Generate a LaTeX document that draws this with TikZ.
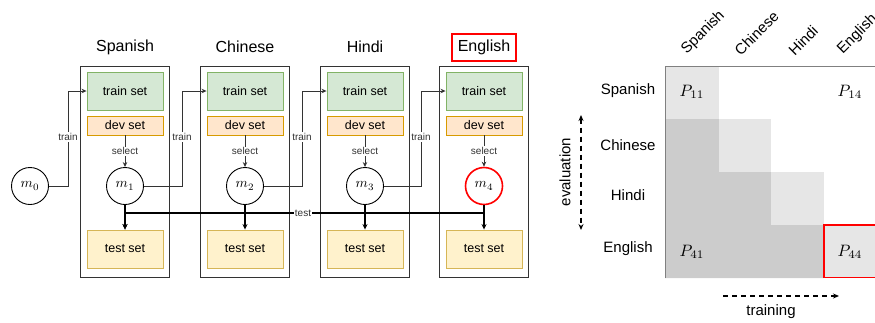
\documentclass[tikz,border=0pt]{standalone}
\usepackage{graphicx}
\usepackage{fontspec}
\setmainfont{Liberation Sans}
\usetikzlibrary{arrows.meta,calc}
\definecolor{trainfill}{HTML}{D5E8D4}
\definecolor{traindraw}{HTML}{82B366}
\definecolor{devfill}{HTML}{FFE6CC}
\definecolor{devdraw}{HTML}{D79B00}
\definecolor{testfill}{HTML}{FFF2CC}
\definecolor{testdraw}{HTML}{D6B656}
\definecolor{linegray}{HTML}{333333}
\definecolor{diaggray}{HTML}{E6E6E6}
\definecolor{lowgray}{HTML}{CCCCCC}
\definecolor{redline}{HTML}{FF0000}
\newcommand{\mbig}[1]{\scalebox{1.4}{$#1$}}
\newcommand{\pbig}[1]{\scalebox{1.65}{$#1$}}
\begin{document}
\begin{tikzpicture}[x=1pt,y=-1pt,
  colbox/.style={draw=linegray,line width=0.9pt,minimum width=89pt,minimum height=211pt,inner sep=0pt},
  trainbox/.style={draw=traindraw,fill=trainfill,line width=0.9pt,minimum width=76pt,minimum height=38pt,inner sep=0pt,font=\fontsize{12.5}{14}\selectfont},
  devbox/.style={draw=devdraw,fill=devfill,line width=0.9pt,minimum width=76pt,minimum height=19pt,inner sep=0pt,font=\fontsize{12.5}{14}\selectfont},
  testbox/.style={draw=testdraw,fill=testfill,line width=0.9pt,minimum width=76pt,minimum height=38pt,inner sep=0pt,font=\fontsize{12.5}{14}\selectfont},
  model/.style={circle,draw=black,line width=0.9pt,minimum size=37pt,inner sep=0pt},
  title/.style={font=\fontsize{16}{18}\selectfont,inner sep=0pt},
  lbl/.style={font=\fontsize{10}{12}\selectfont,fill=white,inner sep=1pt,text=linegray},
  arr/.style={-{Stealth[length=5pt,width=4.5pt]},line width=0.9pt,draw=linegray},
  testarr/.style={-{Stealth[length=5.5pt,width=5pt]},line width=1.3pt,draw=black},
  axlbl/.style={font=\fontsize{15}{17}\selectfont,inner sep=0pt},
  plbl/.style={inner sep=0pt}
]
\useasboundingbox (0,0) rectangle (875,322);

% ---------------- left: pipeline ----------------
\foreach \i/\cx in {1/125,2/245,3/365,4/484}{
  \node[colbox] (col\i) at (\cx,171.5) {};
  \node[trainbox] (tr\i) at (\cx,91) {train set};
  \node[devbox] (dev\i) at (\cx,125.5) {dev set};
  \node[testbox] (te\i) at (\cx,249) {test set};
}
\node[model] (m1) at (125,186) {\mbig{m_1}};
\node[model] (m2) at (245,186) {\mbig{m_2}};
\node[model] (m3) at (365,186) {\mbig{m_3}};
\node[model,draw=redline,line width=1.6pt] (m4) at (484,186) {\mbig{m_4}};
\node[model] (m0) at (30,186) {\mbig{m_0}};

\node[title] (t1) at (125,47) {Spanish};
\node[title] (t2) at (245,47) {Chinese};
\node[title] (t3) at (365,47) {Hindi};
\node[title,draw=redline,line width=1.6pt,inner xsep=5.5pt,minimum height=27pt] (t4) at (484,47.5) {English};

% select arrows
\foreach \i in {1,2,3,4}{
  \draw[arr] (dev\i.south) -- (m\i.north) node[midway,lbl] (sel\i) {select};
}

% train arrows
\coordinate (k0) at (68,0);
\coordinate (k1) at (182,0);
\coordinate (k2) at (302,0);
\coordinate (k3) at (421,0);
\draw[arr] (m0.east) -| (k0 |- tr1.west) -- (tr1.west);
\draw[arr] (m1.east) -| (k1 |- tr2.west) -- (tr2.west);
\draw[arr] (m2.east) -| (k2 |- tr3.west) -- (tr3.west);
\draw[arr] (m3.east) -| (k3 |- tr4.west) -- (tr4.west);
\node[lbl] (tl0) at (68,137) {train};
\node[lbl] (tl1) at (182,137) {train};
\node[lbl] (tl2) at (302,137) {train};
\node[lbl] (tl3) at (421,137) {train};

% test arrows
\coordinate (ty) at (0,213);
\draw[testarr] (m4.south) -- (m4.south |- ty) -| (te1.north);
\foreach \i in {1,2,3,4}{
  \draw[testarr] (m\i.south) -- (te\i.north);
}
\node[lbl,fill=white,inner sep=0.5pt] (testlbl) at (303,213) {test};

% ---------------- right: matrix ----------------
\fill[lowgray] (665,119) -- (719,119) -- (719,172) -- (771,172) -- (771,225) -- (824,225) -- (824,278) -- (665,278) -- cycle;
\fill[diaggray] (665,66) rectangle (719,119);
\fill[diaggray] (719,119) rectangle (771,172);
\fill[diaggray] (771,172) rectangle (824,225);
\fill[diaggray] (824,225) rectangle (880,278);
\draw[gray,line width=0.8pt] (665,278) -- (665,66) -- (880,66);
\draw[redline,line width=1.6pt] (824,225) rectangle (885,277.5);

\node[plbl] (p11) at (692,92) {\pbig{P_{11}}};
\node[plbl] (p14) at (850,92) {\pbig{P_{14}}};
\node[plbl] (p41) at (692,252) {\pbig{P_{41}}};
\node[plbl] (p44) at (850,252) {\pbig{P_{44}}};

\node[axlbl] (r1) at (628,91) {Spanish};
\node[axlbl] (r2) at (628,145) {Chinese};
\node[axlbl] (r3) at (628,195) {Hindi};
\node[axlbl] (r4) at (628,249) {English};

\node[axlbl,rotate=45,anchor=south west] (c1) at (689,57) {Spanish};
\node[axlbl,rotate=45,anchor=south west] (c2) at (741,57) {Chinese};
\node[axlbl,rotate=45,anchor=south west] (c3) at (795,57) {Hindi};
\node[axlbl,rotate=45,anchor=south west] (c4) at (845,57) {English};

\coordinate (ev1) at (581,115);
\coordinate (ev2) at (581,230);
\draw[{Stealth[length=6pt,width=5pt]}-{Stealth[length=6pt,width=5pt]},dashed,dash pattern=on 5pt off 4pt,line width=1.2pt] (ev1) -- (ev2);
\node[axlbl,rotate=90] (evl) at (565,172) {evaluation};

\coordinate (tr1a) at (723,296);
\coordinate (tr2a) at (839,296);
\draw[-{Stealth[length=6pt,width=5pt]},dashed,dash pattern=on 5pt off 4pt,line width=1.2pt] (tr1a) -- (tr2a);
\node[axlbl] (trl) at (771,312) {training};
\end{tikzpicture}
\end{document}
